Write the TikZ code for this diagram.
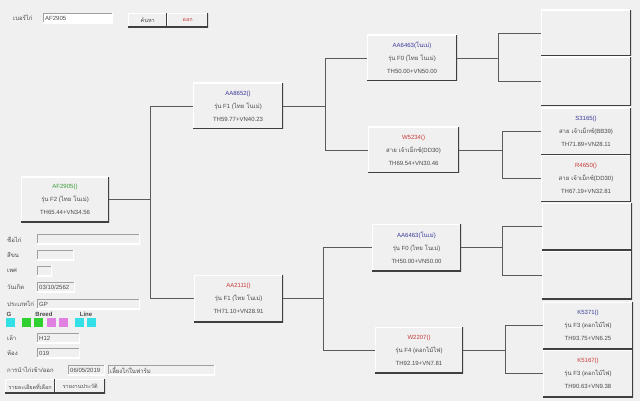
\documentclass[tikz,border=0pt]{standalone}
\usepackage{fontspec}
\setmainfont{Liberation Sans}
\newfontfamily\thaifont[Script=Thai]{Loma}
\usetikzlibrary{positioning}
\definecolor{formBg}{HTML}{F0F0F0}
\definecolor{edgeDark}{HTML}{404040}
\definecolor{edgeMid}{HTML}{A0A0A0}
\definecolor{linkGray}{HTML}{5A5A5A}
\definecolor{textGray}{HTML}{4A4A4A}
\definecolor{nameBlue}{HTML}{3A3A9A}
\definecolor{nameRed}{HTML}{C83A3A}
\definecolor{nameGreen}{HTML}{3A9A3A}
\definecolor{chipCyan}{HTML}{33E0E8}
\definecolor{chipGreen}{HTML}{30D030}
\definecolor{chipPink}{HTML}{E080E0}
\newcommand{\tha}[1]{{\thaifont #1}}

\tikzset{
  raised/.style={fill=formBg,path picture={
      \draw[white,line width=2pt] (path picture bounding box.south west) |- (path picture bounding box.north east);
      \draw[edgeDark,line width=2pt] (path picture bounding box.south west) -| (path picture bounding box.north east);}},
  sunken/.style={fill=formBg,path picture={
      \draw[edgeMid,line width=2pt] (path picture bounding box.south west) |- (path picture bounding box.north east);
      \draw[white,line width=2pt] (path picture bounding box.south west) -| (path picture bounding box.north east);}},
  pedbox/.style={raised,minimum width=89pt,minimum height=47pt,inner sep=0pt,
                 align=center,font=\fontsize{6}{13}\selectfont,text=textGray},
  fieldbox/.style={sunken,anchor=north west,inner xsep=2pt,inner ysep=0pt,
                   minimum height=10pt,text width=#1,align=left,
                   font=\fontsize{6}{7}\selectfont,text=textGray},
  formlabel/.style={anchor=west,inner sep=0pt,font=\fontsize{6}{7}\selectfont,text=textGray},
  button/.style={raised,anchor=north west,inner sep=0pt,minimum height=14pt,
                 font=\fontsize{5.5}{7}\selectfont,text=textGray},
  chip/.style={fill=#1,anchor=north west,minimum size=8.5pt,inner sep=0pt},
  link/.style={draw=linkGray,line width=0.8pt},
}

\begin{document}
\begin{tikzpicture}[x=1pt,y=-1pt]
  \fill[formBg] (0,0) rectangle (640,401);
  \useasboundingbox (0,0) rectangle (640,401);

  % search bar
  \node[formlabel] (lblnumber) at (13,18) {\tha{เบอร์ไก่}};
  \node[fieldbox=66pt,fill=white] (fldnumber) at (43,13) {AF2905};
  \node[button,minimum width=39pt] (btnsearch) at (128,13) {\tha{ค้นหา}};
  \node[button,minimum width=41pt,text=nameRed] (btnexit) at (167,13) {\tha{ออก}};

  % pedigree boxes
  \node[pedbox,minimum width=88pt,minimum height=45pt] (af2905) at (65,199.5)
       {\textcolor{nameGreen}{AF2905()}\\\tha{รุ่น} F2 (\tha{ไทย โนเม่})\\TH65.44+VN34.56};
  \node[pedbox,minimum width=90pt,minimum height=46pt] (aa8652) at (238,106)
       {\textcolor{nameBlue}{AA8652()}\\\tha{รุ่น} F1 (\tha{ไทย โนเม่})\\TH59.77+VN40.23};
  \node[pedbox] (aa2111) at (238.5,298.5)
       {\textcolor{nameRed}{AA2111()}\\\tha{รุ่น} F1 (\tha{ไทย โนเม่})\\TH71.10+VN28.91};
  \node[pedbox,minimum width=90pt,minimum height=46pt] (aa6463a) at (412,58)
       {\textcolor{nameBlue}{AA6463(\tha{โนเม่})}\\\tha{รุ่น} F0 (\tha{ไทย โนเม่})\\TH50.00+VN50.00};
  \node[pedbox,minimum width=91pt,minimum height=46pt] (w5234) at (413.5,150)
       {\textcolor{nameRed}{W5234()}\\\tha{สาย เจ้าเม็กซ์}(DD30)\\TH69.54+VN30.46};
  \node[pedbox] (aa6463b) at (416.5,247.5)
       {\textcolor{nameBlue}{AA6463(\tha{โนเม่})}\\\tha{รุ่น} F0 (\tha{ไทย โนเม่})\\TH50.00+VN50.00};
  \node[pedbox,minimum width=88pt,minimum height=46pt] (w2207) at (419,350)
       {\textcolor{nameRed}{W2207()}\\\tha{รุ่น} F4 (\tha{ดอกไม้ไฟ})\\TH92.19+VN7.81};

  % great-grandparents
  \node[pedbox,minimum width=90pt,minimum height=46pt] (empty1) at (586,33) {};
  \node[pedbox,minimum width=90pt,minimum height=49pt] (empty2) at (586,81.5) {};
  \node[pedbox,minimum width=90pt] (s3165) at (586,131.5)
       {\textcolor{nameBlue}{S3165()}\\\tha{สาย เจ้าเม็กซ์}(BB39)\\TH71.89+VN28.11};
  \node[pedbox,minimum width=90pt,minimum height=46pt] (r4650) at (586,178.5)
       {\textcolor{nameRed}{R4650()}\\\tha{สาย เจ้าเม็กซ์}(DD30)\\TH67.19+VN32.81};
  \node[pedbox,minimum width=90pt] (empty3) at (587,226.5) {};
  \node[pedbox,minimum width=90pt,minimum height=48pt] (empty4) at (587,275) {};
  \node[pedbox,minimum width=90pt] (k5371) at (588,325.5)
       {\textcolor{nameBlue}{K5371()}\\\tha{รุ่น} F3 (\tha{ดอกไม้ไฟ})\\TH93.75+VN6.25};
  \node[pedbox,minimum width=90pt] (k5167) at (588,373.5)
       {\textcolor{nameRed}{K5167()}\\\tha{รุ่น} F3 (\tha{ดอกไม้ไฟ})\\TH90.63+VN9.38};

  % links
  \draw[link] (af2905.east) -- ++(41,0) |- (aa8652.west);
  \draw[link] (af2905.east) -- ++(41,0) |- (aa2111.west);
  \draw[link] (aa8652.east) -- ++(42,0) |- (aa6463a.west);
  \draw[link] (aa8652.east) -- ++(42,0) |- (w5234.west);
  \draw[link] (aa2111.east) -- ++(40,0) |- (aa6463b.west);
  \draw[link] (aa2111.east) -- ++(40,0) |- (w2207.west);
  \draw[link] (aa6463a.east) -- ++(41,0) |- (empty1.west);
  \draw[link] (aa6463a.east) -- ++(41,0) |- (empty2.west);
  \draw[link] (w5234.east) -- ++(43,0) |- (s3165.west);
  \draw[link] (w5234.east) -- ++(43,0) |- (r4650.west);
  \draw[link] (aa6463b.east) -- ++(41,0) |- (empty3.west);
  \draw[link] (aa6463b.east) -- ++(41,0) |- (empty4.west);
  \draw[link] (w2207.east) -- ++(42,0) |- (k5371.west);
  \draw[link] (w2207.east) -- ++(42,0) |- (k5167.west);

  % details form
  \node[formlabel] (lblname) at (7,239) {\tha{ชื่อไก่}};
  \node[fieldbox=99pt] (fldname) at (37,234) {};
  \node[formlabel] (lblcolour) at (7,255) {\tha{สีขน}};
  \node[fieldbox=33pt] (fldcolour) at (37,250) {};
  \node[formlabel] (lblsex) at (7,271) {\tha{เพศ}};
  \node[fieldbox=11pt] (fldsex) at (37,266) {};
  \node[formlabel] (lblbirth) at (7,287) {\tha{วันเกิด}};
  \node[fieldbox=34pt] (fldbirth) at (37,282) {03/10/2562};
  \node[formlabel] (lbltype) at (7,304) {\tha{ประเภทไก่}};
  \node[fieldbox=99pt] (fldtype) at (37,299) {GP};

  \node[font=\fontsize{6}{7}\selectfont\bfseries,text=textGray] (lblg) at (9,314) {G};
  \node[font=\fontsize{6}{7}\selectfont\bfseries,text=textGray] (lblbreed) at (44,314) {Breed};
  \node[font=\fontsize{6}{7}\selectfont\bfseries,text=textGray] (lblline) at (86,314) {Line};
  \node[chip=chipCyan] (chipg) at (6,318) {};
  \node[chip=chipGreen] (chipbreeda) at (22,318) {};
  \node[chip=chipGreen] (chipbreedb) at (34,318) {};
  \node[chip=chipPink] (chipbreedc) at (47,318) {};
  \node[chip=chipPink] (chipbreedd) at (59,318) {};
  \node[chip=chipCyan] (chiplinea) at (75,318) {};
  \node[chip=chipCyan] (chiplineb) at (87,318) {};

  \node[formlabel] (lblcoop) at (7,338) {\tha{เล้า}};
  \node[fieldbox=39pt] (fldcoop) at (37,333) {H12};
  \node[formlabel] (lblroom) at (7,353) {\tha{ห้อง}};
  \node[fieldbox=39pt] (fldroom) at (37,348) {019};
  \node[formlabel] (lblmove) at (7,370) {\tha{การนำไก่เข้า/ออก}};
  \node[fieldbox=33pt] (fldmovedate) at (68,365) {06/05/2019};
  \node[fieldbox=103pt] (fldmovenote) at (108,365) {\tha{เลี้ยงไก่ในฟาร์ม}};
  \node[button,minimum width=50pt] (btndetail) at (5,379) {\tha{รายละเอียดที่เลือก}};
  \node[button,minimum width=50pt] (btnreport) at (55,379) {\tha{รายงานประวัติ}};
\end{tikzpicture}
\end{document}
